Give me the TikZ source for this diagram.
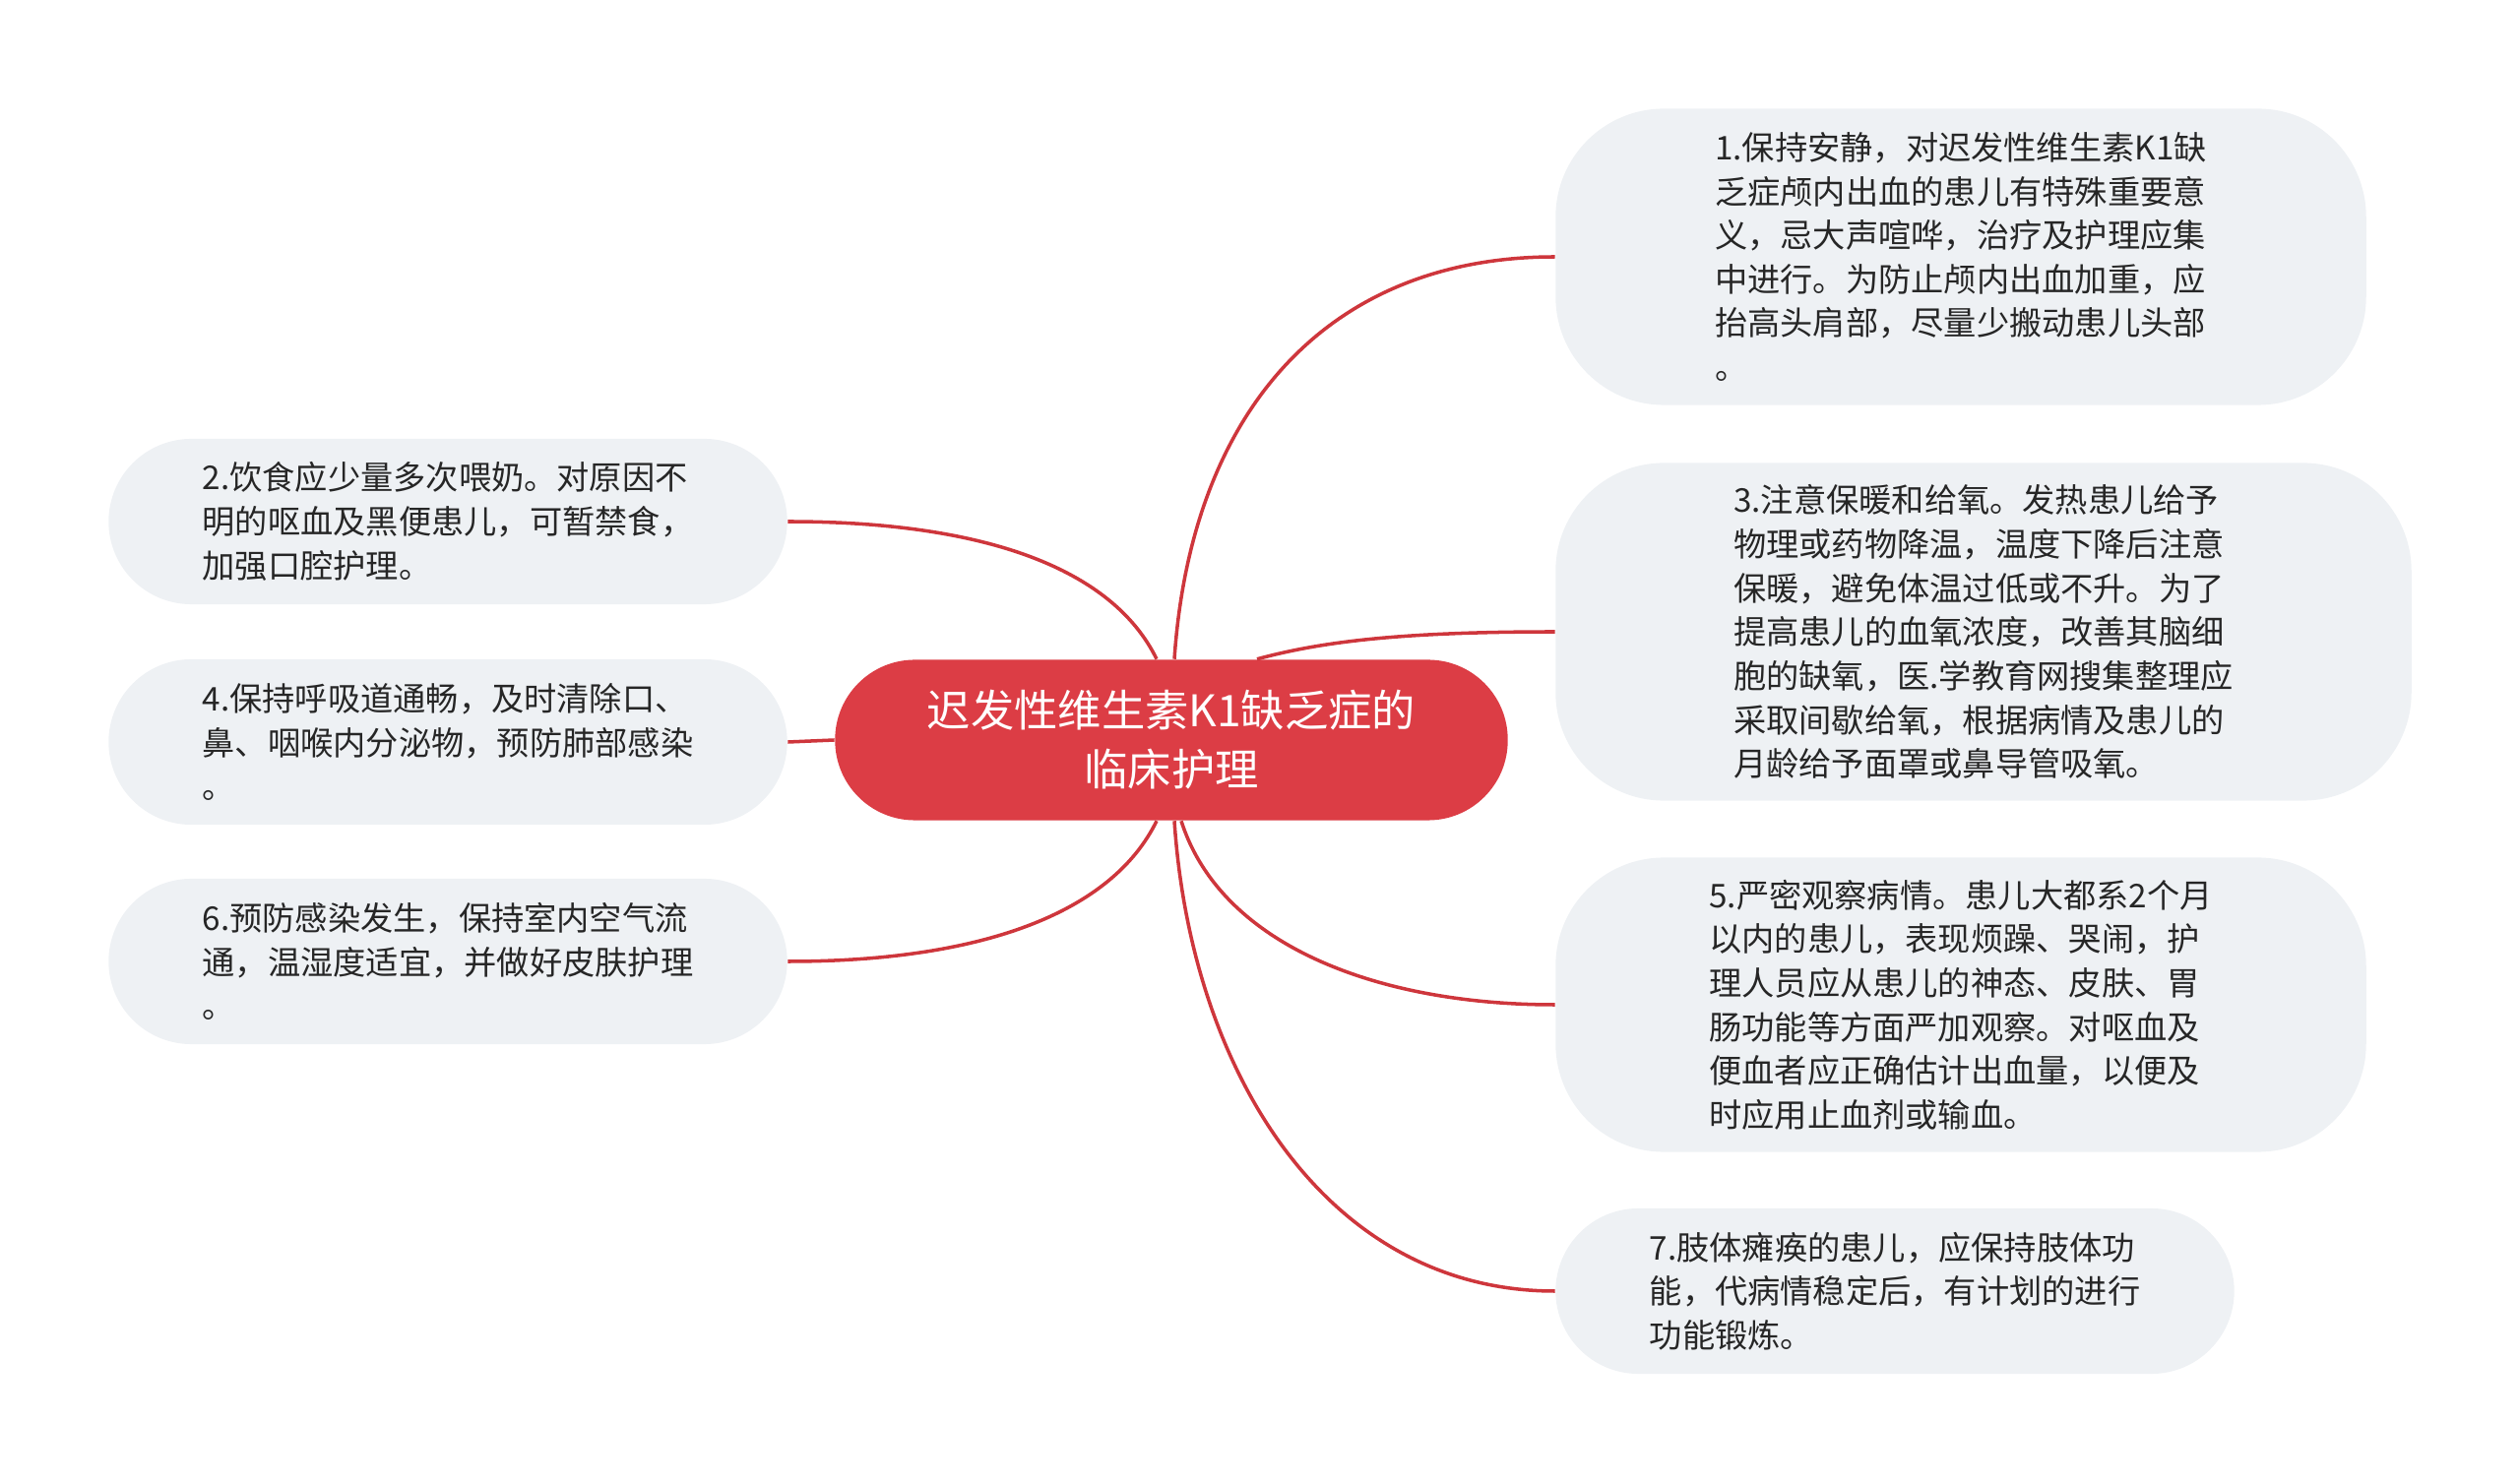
\documentclass[tikz,border=0pt]{standalone}
\usepackage{fontspec}
\setmainfont{Noto Sans CJK SC}
\usetikzlibrary{calc}
\definecolor{rootred}{RGB}{220,61,69}
\definecolor{linkred}{RGB}{206,54,60}
\definecolor{leafgray}{RGB}{238,241,244}
\definecolor{leaftext}{RGB}{38,38,38}

\begin{document}
\begin{tikzpicture}[x=0.01cm, y=-0.01cm,
    root/.style={fill=rootred, text=white, rounded corners=0.81cm,
      minimum width=6.83cm, minimum height=1.63cm, align=center,
      font=\fontsize{12.6}{17}\selectfont},
    leaf/.style={fill=leafgray, text=leaftext, align=left, inner sep=2pt,
      font=\fontsize{9.45}{12.7}\selectfont},
    shortleaf/.style={leaf, rounded corners=0.84cm,
      minimum width=6.89cm, minimum height=1.68cm},
    tallleaf/.style={leaf, rounded corners=1.1cm},
    link/.style={draw=linkred, line width=1pt}]
    \useasboundingbox (0,0) rectangle (2560,1507);
    % centre
    \node [root] (root) at (1190,752) {迟发性维生素K1缺乏症的\\临床护理};
    % right side
    \node [tallleaf, minimum width=8.23cm, minimum height=3.01cm] (n1) at (1992,261)
      {1.保持安静，对迟发性维生素K1缺\\乏症颅内出血的患儿有特殊重要意\\义，忌大声喧哗，治疗及护理应集\\中进行。为防止颅内出血加重，应\\抬高头肩部，尽量少搬动患儿头部\\。};
    \node [tallleaf, minimum width=8.69cm, minimum height=3.43cm] (n3) at (2015,642)
      {3.注意保暖和给氧。发热患儿给予\\物理或药物降温，温度下降后注意\\保暖，避免体温过低或不升。为了\\提高患儿的血氧浓度，改善其脑细\\胞的缺氧，医.学教育网搜集整理应\\采取间歇给氧，根据病情及患儿的\\月龄给予面罩或鼻导管吸氧。};
    \node [tallleaf, minimum width=8.23cm, minimum height=2.99cm] (n5) at (1992,1021)
      {5.严密观察病情。患儿大都系2个月\\以内的患儿，表现烦躁、哭闹，护\\理人员应从患儿的神态、皮肤、胃\\肠功能等方面严加观察。对呕血及\\便血者应正确估计出血量，以便及\\时应用止血剂或输血。};
    \node [shortleaf] (n7) at (1925,1312)
      {7.肢体瘫痪的患儿，应保持肢体功\\能，代病情稳定后，有计划的进行\\功能锻炼。};
    % left side
    \node [shortleaf] (n2) at (455,530)
      {2.饮食应少量多次喂奶。对原因不\\明的呕血及黑便患儿，可暂禁食，\\加强口腔护理。};
    \node [shortleaf] (n4) at (455,754)
      {4.保持呼吸道通畅，及时清除口、\\鼻、咽喉内分泌物，预防肺部感染\\。};
    \node [shortleaf] (n6) at (455,977)
      {6.预防感染发生，保持室内空气流\\通，温湿度适宜，并做好皮肤护理\\。};
    % links
    \draw [link] ($(root.north)+(3,0)$) .. controls +(17,-252) and +(-231,0) .. (n1.west);
    \draw [link] ($(root.north)+(87,0)$) .. controls +(63,-17) and +(-161,0) .. (n3.west);
    \draw [link] ($(root.south)+(10,0)$) .. controls +(40,126) and +(-181,0) .. (n5.west);
    \draw [link] ($(root.south)+(3,0)$) .. controls +(17,256) and +(-231,0) .. (n7.west);
    \draw [link] ($(root.north)+(-15,0)$) .. controls +(-45,-92) and +(200,0) .. (n2.east);
    \draw [link] (root.west) -- (n4.east);
    \draw [link] ($(root.south)+(-15,0)$) .. controls +(-45,92) and +(200,0) .. (n6.east);
\end{tikzpicture}
\end{document}
